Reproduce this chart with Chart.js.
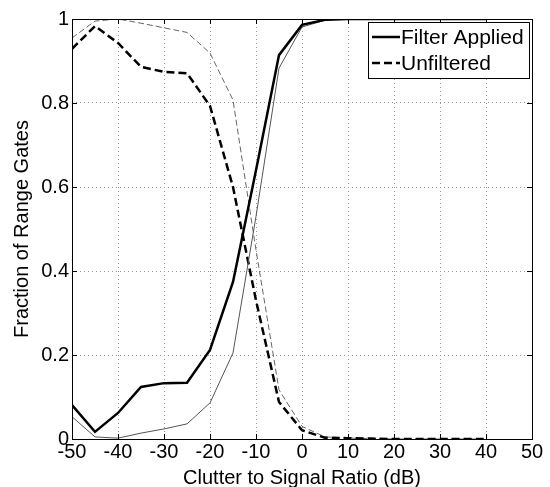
<!DOCTYPE html>
<html>
<head>
<meta charset="utf-8">
<script src="https://cdn.jsdelivr.net/npm/chart.js@4"></script>
<style>
  html, body { margin: 0; padding: 0; background: #fff; }
  #wrap { width: 550px; height: 487px; }
</style>
</head>
<body>
<div id="wrap"><canvas id="chart" width="550" height="487"></canvas></div>
<script>
// clutter to signal ratio (dB)
const csr = [-50, -45, -40, -35, -30, -25, -20, -15, -10, -5, 0, 5, 10, 15, 20, 25, 30, 35, 40];
// thick solid / thin solid
const filterApplied = [0.081, 0.017, 0.062, 0.124, 0.133, 0.134, 0.212, 0.374, 0.64, 0.914, 0.986, 0.998, 1, 1, 1, 1, 1, 1, 1];
const filterAppliedThin = [0.053, 0.005, 0.002, 0.014, 0.024, 0.036, 0.086, 0.205, 0.53, 0.883, 0.981, 0.997, 1, 1, 1, 1, 1, 1, 1];
// thick dashed / thin dashed
const unfiltered = [0.929, 0.983, 0.943, 0.886, 0.874, 0.871, 0.793, 0.60, 0.33, 0.088, 0.021, 0.003, 0.002, 0.001, 0, 0, 0, 0, 0];
const unfilteredThin = [0.955, 0.995, 1.0, 0.99, 0.979, 0.968, 0.919, 0.807, 0.45, 0.117, 0.03, 0.005, 0.002, 0.001, 0, 0, 0, 0, 0];
const yTickLabels = ['0', '0.2', '0.4', '0.6', '0.8', '1'];
const legendLabels = ['Filter Applied', 'Unfiltered'];

const FONT = '"Liberation Sans", Arial, Helvetica, sans-serif';

const pts = ys => csr.map((x, i) => ({ x, y: ys[i] }));

// frame, inward tick marks and the boxed legend (MATLAB style)
const axesBox = {
  id: 'axesBox',
  afterDraw(chart) {
    const { ctx, chartArea: a, scales } = chart;
    ctx.save();
    ctx.strokeStyle = '#000';
    ctx.lineWidth = 1;
    ctx.strokeRect(Math.round(a.left) + 0.5, Math.round(a.top) + 0.5,
      Math.round(a.right - a.left), Math.round(a.bottom - a.top));
    ctx.beginPath();
    scales.x.ticks.forEach(t => {
      const px = Math.round(scales.x.getPixelForValue(t.value)) + 0.5;
      ctx.moveTo(px, a.bottom); ctx.lineTo(px, a.bottom - 5);
      ctx.moveTo(px, a.top); ctx.lineTo(px, a.top + 5);
    });
    scales.y.ticks.forEach(t => {
      const py = Math.round(scales.y.getPixelForValue(t.value)) + 0.5;
      ctx.moveTo(a.left, py); ctx.lineTo(a.left + 5, py);
      ctx.moveTo(a.right, py); ctx.lineTo(a.right - 5, py);
    });
    ctx.stroke();

    // legend
    const bx = 368.5, by = 22.5, bw = 161, bh = 56;
    ctx.fillStyle = '#fff';
    ctx.fillRect(bx, by, bw, bh);
    ctx.strokeRect(bx, by, bw, bh);
    ctx.font = '21px ' + FONT;
    ctx.textBaseline = 'middle';
    ctx.fillStyle = '#000';
    [0, 1].forEach(i => {
      const ds = chart.data.datasets[i === 0 ? 0 : 2];
      const y = 37 + i * 26;
      ctx.beginPath();
      ctx.lineWidth = ds.borderWidth;
      ctx.setLineDash(ds.borderDash || []);
      ctx.moveTo(372, y); ctx.lineTo(400, y);
      ctx.stroke();
      ctx.setLineDash([]);
      ctx.fillText(legendLabels[i], 401, y + 1);
    });
    ctx.restore();
  }
};

new Chart(document.getElementById('chart'), {
  type: 'line',
  data: {
    datasets: [
      { label: legendLabels[0], data: pts(filterApplied), borderColor: '#000', borderWidth: 2.5 },
      { label: 'Filter Applied (thin)', data: pts(filterAppliedThin), borderColor: '#555', borderWidth: 1 },
      { label: legendLabels[1], data: pts(unfiltered), borderColor: '#000', borderWidth: 2.5, borderDash: [8, 4] },
      { label: 'Unfiltered (thin)', data: pts(unfilteredThin), borderColor: '#666', borderWidth: 1, borderDash: [6, 3] }
    ]
  },
  options: {
    responsive: false,
    animation: false,
    events: [],
    elements: { point: { radius: 0 }, line: { tension: 0 } },
    layout: { padding: { top: 19, right: 18, left: 0, bottom: 0 } },
    plugins: { legend: { display: false }, tooltip: { enabled: false } },
    scales: {
      x: {
        type: 'linear', min: -50, max: 50,
        afterFit: s => { s.height = 48; },
        ticks: { stepSize: 10, color: '#000', padding: 1, maxRotation: 0, font: { family: FONT, size: 20 } },
        grid: { color: '#999', drawTicks: false },
        border: { display: false, dash: [1, 3] },
        title: { display: true, text: 'Clutter to Signal Ratio (dB)', color: '#000', padding: { top: 0, bottom: -3 }, font: { family: FONT, size: 20 } }
      },
      y: {
        min: 0, max: 1,
        afterFit: s => { s.width = 72; },
        ticks: {
          stepSize: 0.2, color: '#000', padding: 3, font: { family: FONT, size: 20 },
          callback: (v, i) => yTickLabels[i]
        },
        grid: { color: '#999', drawTicks: false },
        border: { display: false, dash: [1, 3] },
        title: { display: true, text: 'Fraction of Range Gates', color: '#000', padding: { top: 10, bottom: 0 }, font: { family: FONT, size: 20 } }
      }
    }
  },
  plugins: [axesBox]
});
</script>
</body>
</html>
